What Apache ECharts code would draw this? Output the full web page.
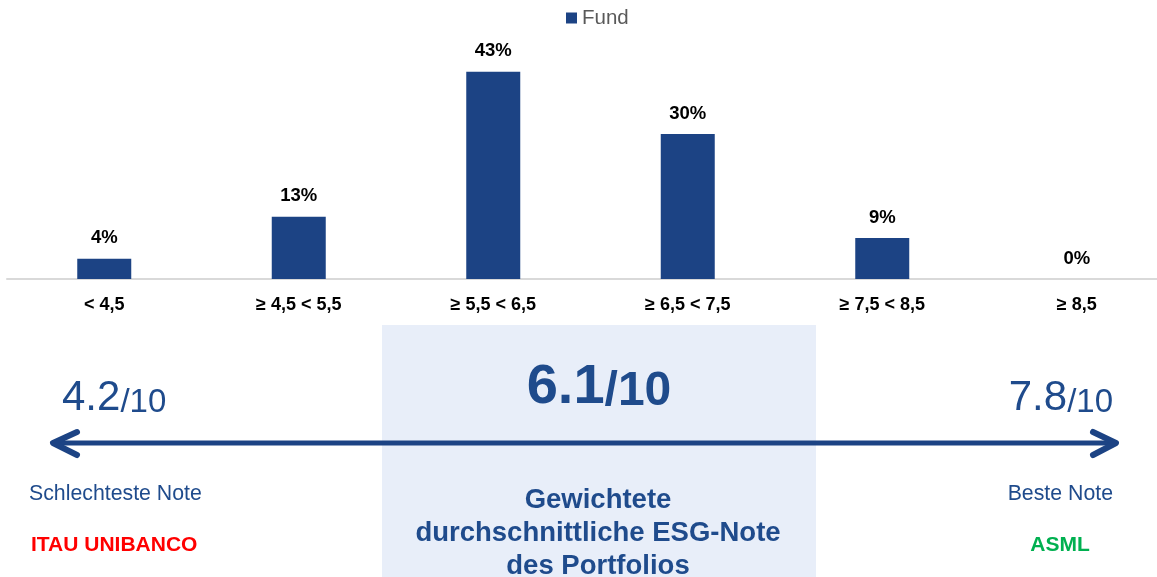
<!DOCTYPE html>
<html>
<head>
<meta charset="utf-8">
<script src="https://cdn.jsdelivr.net/npm/echarts@6/dist/echarts.min.js"></script>
<style>
html,body{margin:0;padding:0;background:#fff;}
#chart{width:1157px;height:577px;}
</style>
</head>
<body>
<div id="chart"></div>
<script>
// Data
var categories = ['< 4,5', '≥ 4,5 < 5,5', '≥ 5,5 < 6,5', '≥ 6,5 < 7,5', '≥ 7,5 < 8,5', '≥ 8,5'];
var fundValues = [4.2, 12.9, 43.0, 30.1, 8.5, 0];
var seriesName = 'Fund';
var worstScore = '4.2';
var avgScore = '6.1';
var bestScore = '7.8';
var scoreScale = '/10';
var worstLabel = 'Schlechteste Note';
var bestLabel = 'Beste Note';
var worstCompany = 'ITAU UNIBANCO';
var bestCompany = 'ASML';
var avgLabel = 'Gewichtete\ndurchschnittliche ESG-Note\ndes Portfolios';

var FONT = '"Liberation Sans", Arial, sans-serif';
var BAR = '#1c4384';
var BLUE_TXT = '#1f4b8c';

var chart = echarts.init(document.getElementById('chart'), null, {renderer: 'canvas'});
chart.setOption({
  animation: false,
  backgroundColor: '#ffffff',
  textStyle: {fontFamily: FONT},
  legend: {
    data: [seriesName],
    left: 566,
    top: 7.5,
    padding: 0,
    icon: 'rect',
    itemWidth: 11,
    itemHeight: 11,
    itemGap: 10,
    textStyle: {fontSize: 20.5, color: '#595959', fontFamily: FONT, padding: [0, 0, 0, 0]}
  },
  grid: {left: 7, width: 1167, top: 38, bottom: 298, containLabel: false, outerBoundsMode: 'none'},
  xAxis: {
    type: 'category',
    data: categories,
    axisTick: {show: false},
    axisLine: {show: true, lineStyle: {color: '#d9d9d9', width: 2}},
    axisLabel: {fontSize: 18, fontWeight: 'bold', color: '#000', margin: 17, fontFamily: FONT, interval: 0},
    splitLine: {show: false}
  },
  yAxis: {
    type: 'value',
    min: 0,
    max: 50,
    show: false,
    splitLine: {show: false}
  },
  series: [{
    name: seriesName,
    type: 'bar',
    data: fundValues,
    barWidth: 54,
    itemStyle: {color: BAR},
    label: {
      show: true,
      position: 'top',
      distance: 11,
      fontSize: 18.5,
      fontWeight: 'bold',
      color: '#000',
      fontFamily: FONT,
      formatter: function (p) { return Math.round(p.value) + '%'; }
    }
  }],
  graphic: [
    {type: 'rect', z: 0, shape: {x: 382, y: 325, width: 434, height: 252}, style: {fill: '#e8eef9'}},
    {type: 'line', z: 2, shape: {x1: 56, y1: 443, x2: 1113, y2: 443}, style: {stroke: BAR, lineWidth: 5}},
    {type: 'polyline', z: 2, shape: {points: [[77, 432], [53, 443], [77, 455]]}, style: {stroke: BAR, lineWidth: 6, lineCap: 'round', lineJoin: 'round', fill: null}},
    {type: 'polyline', z: 2, shape: {points: [[1093, 432], [1116, 443], [1093, 455]]}, style: {stroke: BAR, lineWidth: 6, lineCap: 'round', lineJoin: 'round', fill: null}},
    {type: 'text', z: 3, x: 62, y: 419, style: {
      text: '{a|' + worstScore + '}{b|' + scoreScale + '}', align: 'left', verticalAlign: 'bottom',
      rich: {a: {fontSize: 42, lineHeight: 42, verticalAlign: 'bottom', fill: BLUE_TXT, fontFamily: FONT},
             b: {fontSize: 33, lineHeight: 33, verticalAlign: 'bottom', fill: BLUE_TXT, fontFamily: FONT}}
    }},
    {type: 'text', z: 3, x: 1113, y: 419, style: {
      text: '{a|' + bestScore + '}{b|' + scoreScale + '}', align: 'right', verticalAlign: 'bottom',
      rich: {a: {fontSize: 42, lineHeight: 42, verticalAlign: 'bottom', fill: BLUE_TXT, fontFamily: FONT},
             b: {fontSize: 33, lineHeight: 33, verticalAlign: 'bottom', fill: BLUE_TXT, fontFamily: FONT}}
    }},
    {type: 'text', z: 3, x: 599, y: 416, style: {
      text: '{a|' + avgScore + '}{b|' + scoreScale + '}', align: 'center', verticalAlign: 'bottom',
      rich: {a: {fontSize: 56, lineHeight: 56, fontWeight: 'bold', verticalAlign: 'bottom', fill: BLUE_TXT, fontFamily: FONT},
             b: {fontSize: 48, lineHeight: 48, fontWeight: 'bold', verticalAlign: 'bottom', fill: BLUE_TXT, fontFamily: FONT}}
    }},
    {type: 'text', z: 3, x: 29, y: 494, style: {text: worstLabel, fontSize: 21.3, fill: BLUE_TXT, fontFamily: FONT, align: 'left', verticalAlign: 'middle'}},
    {type: 'text', z: 3, x: 1113, y: 494, style: {text: bestLabel, fontSize: 21.3, fill: BLUE_TXT, fontFamily: FONT, align: 'right', verticalAlign: 'middle'}},
    {type: 'text', z: 3, x: 31, y: 545, style: {text: worstCompany, fontSize: 21, fontWeight: 'bold', fill: '#ff0000', fontFamily: FONT, align: 'left', verticalAlign: 'middle'}},
    {type: 'text', z: 3, x: 1060, y: 545, style: {text: bestCompany, fontSize: 21, fontWeight: 'bold', fill: '#00b050', fontFamily: FONT, align: 'center', verticalAlign: 'middle'}},
    {type: 'text', z: 3, x: 598, y: 533, style: {text: avgLabel, fontSize: 27.5, lineHeight: 33, fontWeight: 'bold', fill: BLUE_TXT, fontFamily: FONT, align: 'center', verticalAlign: 'middle'}}
  ]
});
</script>
</body>
</html>
